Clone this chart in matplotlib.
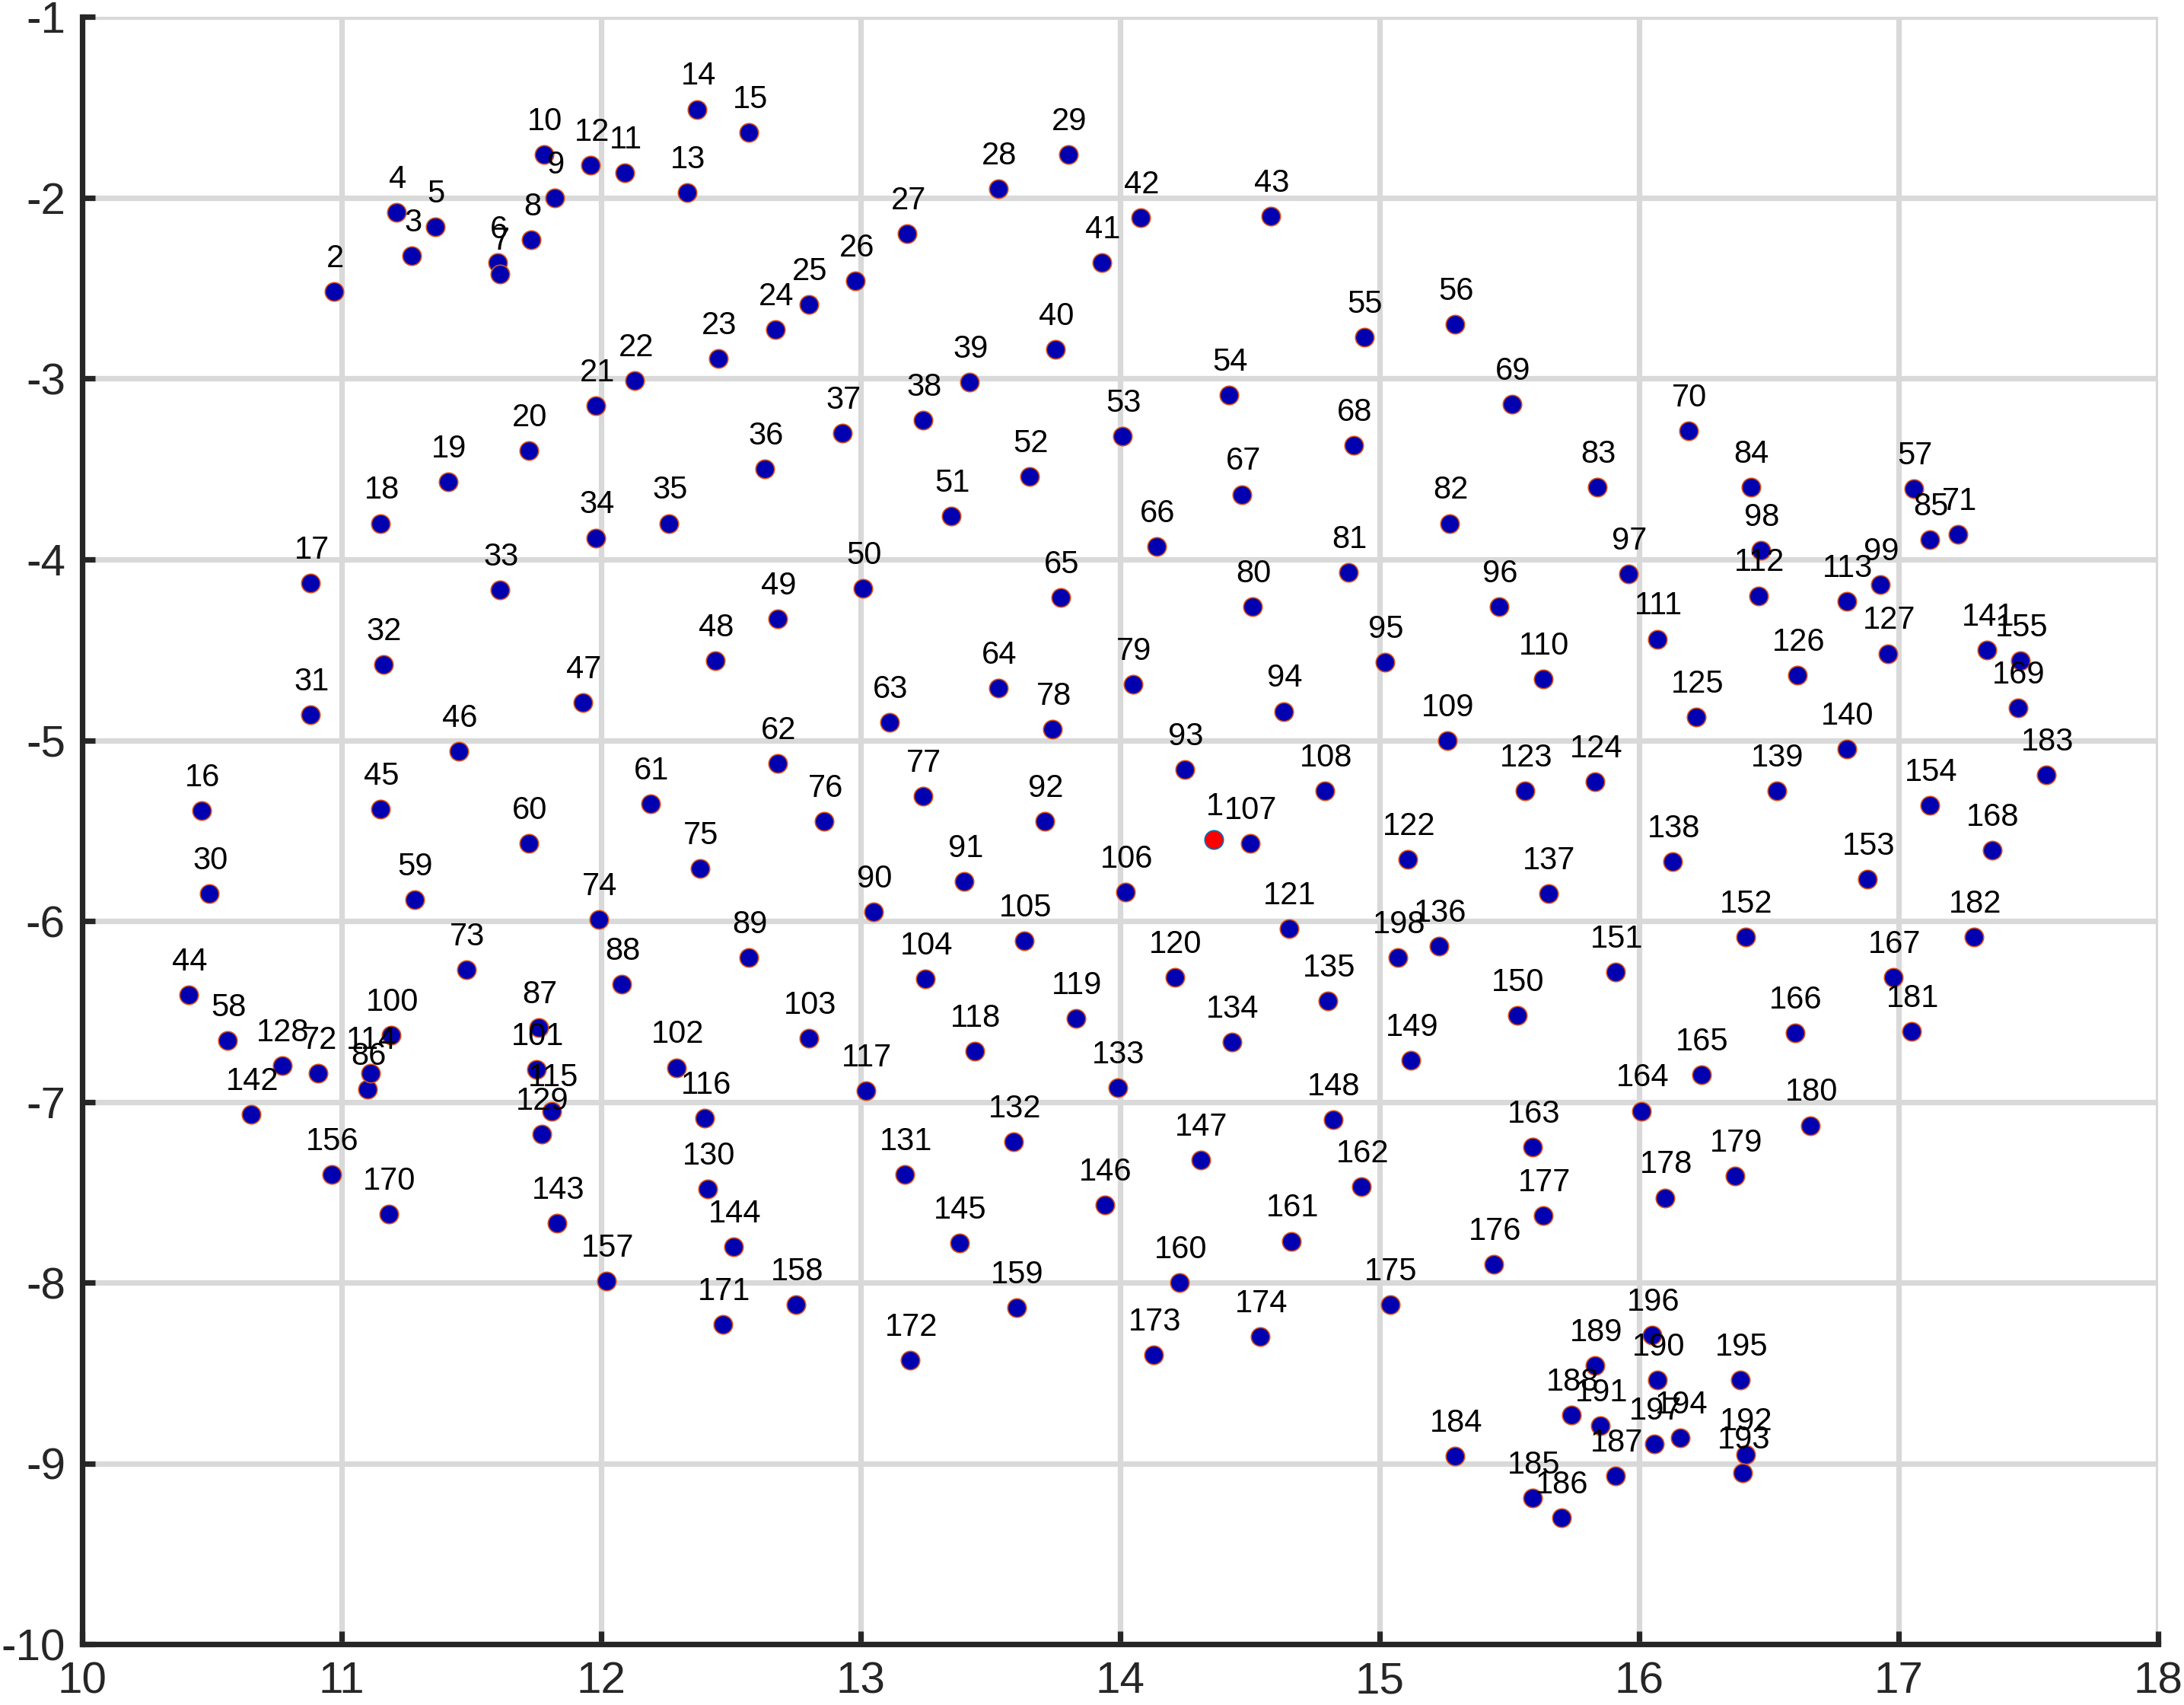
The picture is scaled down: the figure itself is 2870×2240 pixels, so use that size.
import matplotlib
matplotlib.use('Agg')
import matplotlib.pyplot as plt

# node positions, index i -> node i+1
x_vals = [
    14.36, 10.97, 11.27, 11.21, 11.36, 11.60, 11.61, 11.73, 11.82, 11.78,  # 1-10
    12.09, 11.96, 12.33, 12.37, 12.57, 10.46, 10.88, 11.15, 11.41, 11.72,  # 11-20
    11.98, 12.13, 12.45, 12.67, 12.80, 12.98, 13.18, 13.53, 13.80, 10.49,  # 21-30
    10.88, 11.16, 11.61, 11.98, 12.26, 12.63, 12.93, 13.24, 13.42, 13.75,  # 31-40
    13.93, 14.08, 14.58, 10.41, 11.15, 11.45, 11.93, 12.44, 12.68, 13.01,  # 41-50
    13.35, 13.65, 14.01, 14.42, 14.94, 15.29, 17.06, 10.56, 11.28, 11.72,  # 51-60
    12.19, 12.68, 13.11, 13.53, 13.77, 14.14, 14.47, 14.90, 15.51, 16.19,  # 61-70
    17.23, 10.91, 11.48, 11.99, 12.38, 12.86, 13.24, 13.74, 14.05, 14.51,  # 71-80
    14.88, 15.27, 15.84, 16.43, 17.12, 11.10, 11.76, 12.08, 12.57, 13.05,  # 81-90
    13.40, 13.71, 14.25, 14.63, 15.02, 15.46, 15.96, 16.47, 16.93, 11.19,  # 91-100
    11.75, 12.29, 12.80, 13.25, 13.63, 14.02, 14.50, 14.79, 15.26, 15.63,  # 101-110
    16.07, 16.46, 16.80, 11.11, 11.81, 12.40, 13.02, 13.44, 13.83, 14.21,  # 111-120
    14.65, 15.11, 15.56, 15.83, 16.22, 16.61, 16.96, 10.77, 11.77, 12.41,  # 121-130
    13.17, 13.59, 13.99, 14.43, 14.80, 15.23, 15.65, 16.13, 16.53, 16.80,  # 131-140
    17.34, 10.65, 11.83, 12.51, 13.38, 13.94, 14.31, 14.82, 15.12, 15.53,  # 141-150
    15.91, 16.41, 16.88, 17.12, 17.47, 10.96, 12.02, 12.75, 13.60, 14.23,  # 151-160
    14.66, 14.93, 15.59, 16.01, 16.24, 16.60, 16.98, 17.36, 17.46, 11.18,  # 161-170
    12.47, 13.19, 14.13, 14.54, 15.04, 15.44, 15.63, 16.10, 16.37, 16.66,  # 171-180
    17.05, 17.29, 17.57, 15.29, 15.59, 15.70, 15.91, 15.74, 15.83, 16.07,  # 181-190
    15.85, 16.41, 16.40, 16.16, 16.39, 16.05, 16.06, 15.07,                # 191-198
]

y_vals = [
    -5.55, -2.52, -2.32, -2.08, -2.16, -2.36, -2.42, -2.23, -2.00, -1.76,  # 1-10
    -1.86, -1.82, -1.97, -1.51, -1.64, -5.39, -4.13, -3.80, -3.57, -3.40,  # 11-20
    -3.15, -3.01, -2.89, -2.73, -2.59, -2.46, -2.20, -1.95, -1.76, -5.85,  # 21-30
    -4.86, -4.58, -4.17, -3.88, -3.80, -3.50, -3.30, -3.23, -3.02, -2.84,  # 31-40
    -2.36, -2.11, -2.10, -6.41, -5.38, -5.06, -4.79, -4.56, -4.33, -4.16,  # 41-50
    -3.76, -3.54, -3.32, -3.09, -2.77, -2.70, -3.61, -6.66, -5.88, -5.57,  # 51-60
    -5.35, -5.13, -4.90, -4.71, -4.21, -3.93, -3.64, -3.37, -3.14, -3.29,  # 61-70
    -3.86, -6.84, -6.27, -5.99, -5.71, -5.45, -5.31, -4.94, -4.69, -4.26,  # 71-80
    -4.07, -3.80, -3.60, -3.60, -3.89, -6.93, -6.59, -6.35, -6.20, -5.95,  # 81-90
    -5.78, -5.45, -5.16, -4.84, -4.57, -4.26, -4.08, -3.95, -4.14, -6.63,  # 91-100
    -6.82, -6.81, -6.65, -6.32, -6.11, -5.84, -5.57, -5.28, -5.00, -4.66,  # 101-110
    -4.44, -4.20, -4.23, -6.84, -7.05, -7.09, -6.94, -6.72, -6.54, -6.31,  # 111-120
    -6.04, -5.66, -5.28, -5.23, -4.87, -4.64, -4.52, -6.80, -7.18, -7.48,  # 121-130
    -7.40, -7.22, -6.92, -6.67, -6.44, -6.14, -5.85, -5.67, -5.28, -5.05,  # 131-140
    -4.50, -7.07, -7.67, -7.80, -7.78, -7.57, -7.32, -7.10, -6.77, -6.52,  # 141-150
    -6.28, -6.09, -5.77, -5.36, -4.56, -7.40, -7.99, -8.12, -8.14, -8.00,  # 151-160
    -7.77, -7.47, -7.25, -7.05, -6.85, -6.62, -6.31, -5.61, -4.82, -7.62,  # 161-170
    -8.23, -8.43, -8.40, -8.30, -8.12, -7.90, -7.63, -7.53, -7.41, -7.13,  # 171-180
    -6.61, -6.09, -5.19, -8.96, -9.19, -9.30, -9.07, -8.73, -8.46, -8.54,  # 181-190
    -8.79, -8.95, -9.05, -8.86, -8.54, -8.29, -8.89, -6.20,                # 191-198
]

node_ids = list(range(1, len(x_vals) + 1))
highlight = 1  # drawn in red

x_ticks = list(range(10, 19))
y_ticks = list(range(-10, 0))

plt.rcParams['font.family'] = ['Liberation Sans', 'DejaVu Sans']
plt.rcParams['axes.unicode_minus'] = False

fig = plt.figure(figsize=(14.35, 11.2), dpi=200)
ax = fig.add_axes([0.0377, 0.0356, 0.9504, 0.9544])

others = [i for i in node_ids if i != highlight]
ax.plot([x_vals[i - 1] for i in others], [y_vals[i - 1] for i in others], 'o',
        ms=8.8, mfc='#0000b0', mec='#d95319', mew=0.6, zorder=3)
ax.plot([x_vals[highlight - 1]], [y_vals[highlight - 1]], 'o',
        ms=8.8, mfc='#ff0000', mec='#0072bd', mew=0.6, zorder=3)

for i in node_ids:
    ax.annotate(str(i), (x_vals[i - 1], y_vals[i - 1]), xytext=(0.5, 15.5),
                textcoords='offset points', ha='center', va='center',
                fontsize=15, color='black', zorder=4)

ax.set_xlim(10, 18)
ax.set_ylim(-10, -1)
ax.set_xticks(x_ticks)
ax.set_yticks(y_ticks)
ax.grid(True, color='#d9d9d9', lw=2.6)
ax.set_axisbelow(True)

for s in ['top', 'right']:
    ax.spines[s].set_visible(False)
for s in ['left', 'bottom']:
    ax.spines[s].set_linewidth(2.6)
    ax.spines[s].set_color('#262626')

ax.tick_params(direction='in', length=6, width=2.6, colors='#262626',
               labelsize=21, pad=8)

fig.savefig('out.png', dpi=200)
